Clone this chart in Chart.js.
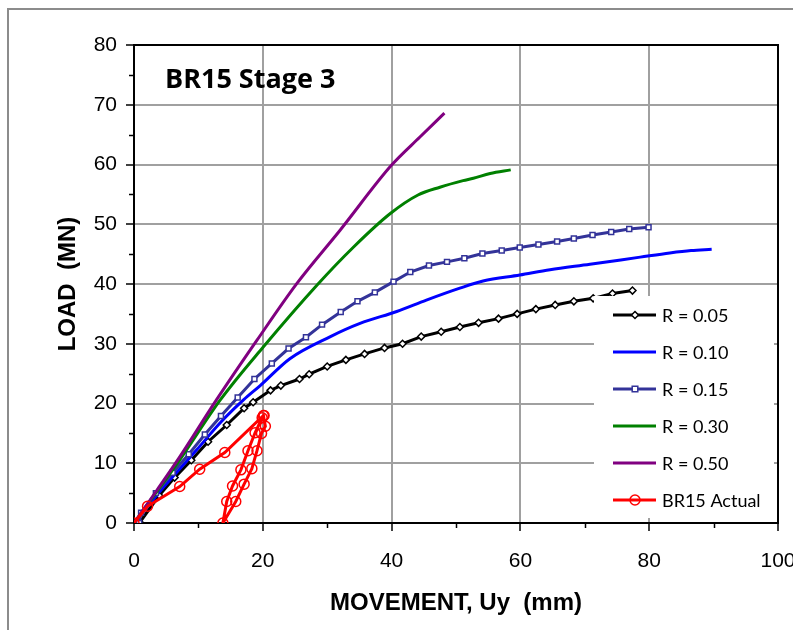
<!DOCTYPE html>
<html><head><meta charset="utf-8">
<script src="https://cdn.jsdelivr.net/npm/chart.js@4.4.1/dist/chart.umd.min.js"></script>
<style>html,body{margin:0;padding:0;background:#fff;}canvas{display:block;}</style>
</head><body>
<canvas id="c" width="793" height="630"></canvas>
<script>
// ---- data ----
const seriesNames = ['R = 0.05', 'R = 0.10', 'R = 0.15', 'R = 0.30', 'R = 0.50', 'BR15 Actual'];
const r005 = [[0,0],[0.9,0.1],[3.9,4.6],[6.3,7.6],[8.9,10.5],[11.5,13.6],[14.4,16.4],[17.1,19.2],[18.5,20.2],[21.2,22.2],[22.8,23.0],[25.7,24.1],[27.2,24.9],[30.0,26.2],[32.9,27.3],[35.8,28.3],[38.9,29.3],[41.7,30.0],[44.6,31.2],[47.7,32.0],[50.6,32.8],[53.5,33.5],[56.6,34.2],[59.5,35.0],[62.4,35.8],[65.4,36.5],[68.3,37.1],[71.3,37.6],[74.3,38.4],[77.4,38.9]];
const r010 = [[0,0],[1,1.3],[4.6,6.0],[9.7,12.2],[13.5,16.9],[17.0,20.6],[19.6,23.0],[24.2,27.5],[30.5,31.2],[35.1,33.4],[40.8,35.4],[45.4,37.3],[50.6,39.3],[54.2,40.5],[59.9,41.5],[64.6,42.4],[70.8,43.3],[78.6,44.5],[83.2,45.2],[86.5,45.6],[89.7,45.8]];
const r015 = [[0,0],[0.8,0],[1.1,1.7],[3.4,5.0],[6.0,8.4],[8.5,11.5],[11.0,14.8],[13.5,17.9],[16.1,21.0],[18.7,24.1],[21.4,26.7],[24.0,29.2],[26.7,31.1],[29.2,33.2],[32.1,35.3],[34.7,37.1],[37.4,38.6],[40.3,40.4],[42.9,42.0],[45.8,43.1],[48.6,43.7],[51.3,44.3],[54.1,45.1],[57.1,45.6],[59.9,46.1],[62.8,46.6],[65.7,47.1],[68.3,47.6],[71.2,48.2],[74.1,48.7],[76.9,49.2],[79.9,49.5]];
const r030 = [[0,0],[3.5,5.2],[7,10.4],[13.4,20.6],[20.1,29.5],[28.4,39.8],[34.1,46.2],[39.8,51.8],[44.1,54.9],[47.5,56.2],[51.1,57.3],[52.7,57.7],[55.3,58.5],[58.5,59.1]];
const r050 = [[0,0],[3.5,5.4],[7,10.9],[12.8,20.6],[19.1,30.6],[25.3,40.1],[32.0,49.0],[40.0,59.9],[44.4,64.6],[48.2,68.6]];
const br15Actual = [[0,0],[2.1,2.8],[7.1,6.1],[10.2,9.0],[14.1,11.8],[20.1,18.0],[20.4,16.2],[19.8,15.0],[19.1,12.1],[18.3,9.1],[17.1,6.5],[15.8,3.6],[13.8,0],[14.4,3.6],[15.3,6.2],[16.6,8.9],[17.7,12.1],[18.8,15.1],[19.9,17.6],[20.2,18.0]];
const xTickMin = 0, xTickMax = 100, xTickStep = 20;
const yTickMin = 0, yTickMax = 80, yTickStep = 10;
const chartTitle = 'BR15 Stage 3';
const xTitle = 'MOVEMENT, Uy  (mm)';
const yTitle = 'LOAD  (MN)';

const toXY = a => a.map(p => ({x: p[0], y: p[1]}));

const styles = [
  {color:'#000000', pointStyle:'rectRot', radius:3.5, bg:'#ffffff', smooth:false},
  {color:'#0000ff', pointStyle:false, radius:0, bg:'#ffffff', smooth:true},
  {color:'#333399', pointStyle:'rect', radius:3.5, bg:'#ffffff', smooth:false},
  {color:'#008000', pointStyle:false, radius:0, bg:'#ffffff', smooth:true},
  {color:'#800080', pointStyle:false, radius:0, bg:'#ffffff', smooth:true},
  {color:'#ff0000', pointStyle:'circle', radius:5, bg:'rgba(0,0,0,0)', smooth:false}
];
const seriesData = [r005, r010, r015, r030, r050, br15Actual];

const datasets = seriesData.map((d, i) => ({
  label: seriesNames[i],
  data: toXY(d),
  showLine: true,
  borderColor: styles[i].color,
  backgroundColor: styles[i].bg,
  borderWidth: 3,
  pointStyle: styles[i].pointStyle || 'circle',
  pointRadius: styles[i].radius,
  pointBorderWidth: 1.5,
  pointBorderColor: styles[i].color,
  pointBackgroundColor: styles[i].bg,
  cubicInterpolationMode: styles[i].smooth ? 'monotone' : 'default',
  tension: 0,
  order: seriesData.length - i
}));

const decoPlugin = {
  id: 'deco',
  beforeDraw(chart) {
    const ctx = chart.ctx;
    ctx.save();
    ctx.fillStyle = '#fff';
    ctx.fillRect(0, 0, chart.width, chart.height);
    ctx.strokeStyle = '#8c8c8c';
    ctx.lineWidth = 2;
    ctx.strokeRect(8, 9, chart.width + 40, chart.height + 40);
    ctx.restore();
  },
  beforeDatasetsDraw(chart) {
    const {ctx, chartArea: a, scales: {x, y}} = chart;
    ctx.save();
    ctx.strokeStyle = '#000';
    ctx.lineWidth = 2;
    ctx.strokeRect(a.left, a.top, a.right - a.left, a.bottom - a.top);
    ctx.lineWidth = 1.5;
    ctx.beginPath();
    for (let v = yTickMin + yTickStep / 2; v < yTickMax; v += yTickStep) {
      const py = Math.round(y.getPixelForValue(v)) + 0.5;
      ctx.moveTo(a.left - 5, py); ctx.lineTo(a.left, py);
    }
    for (let v = xTickMin + xTickStep / 2; v < xTickMax; v += xTickStep) {
      const px = Math.round(x.getPixelForValue(v)) + 0.5;
      ctx.moveTo(px, a.bottom); ctx.lineTo(px, a.bottom + 5);
    }
    ctx.stroke();
    ctx.restore();
  },
  afterDatasetsDraw(chart) {
    const {ctx, chartArea: a} = chart;
    ctx.save();
    // title inside plot
    ctx.fillStyle = '#000';
    ctx.font = 'bold 27px "Open Sans"';
    ctx.textBaseline = 'middle';
    ctx.textAlign = 'left';
    ctx.fillText(chartTitle, a.left + 31, a.top + 35);
    // legend
    const lx = a.right - 184, ly = a.top + 251, lw = 180, lh = 222;
    ctx.fillStyle = '#fff';
    ctx.fillRect(lx, ly, lw, lh);
    ctx.font = '18px Lato';
    chart.data.datasets.forEach((ds, i) => {
      const yy = ly + 19 + i * 37;
      ctx.strokeStyle = ds.borderColor;
      ctx.lineWidth = 3;
      ctx.beginPath(); ctx.moveTo(lx + 19, yy); ctx.lineTo(lx + 62, yy); ctx.stroke();
      const cx = lx + 41;
      const r = ds.pointRadius;
      if (r > 0) {
        ctx.lineWidth = 1.5;
        ctx.strokeStyle = ds.pointBorderColor;
        ctx.fillStyle = ds.pointBackgroundColor;
        ctx.beginPath();
        if (ds.pointStyle === 'rectRot') {
          ctx.moveTo(cx, yy - r); ctx.lineTo(cx + r, yy); ctx.lineTo(cx, yy + r); ctx.lineTo(cx - r, yy); ctx.closePath();
        } else if (ds.pointStyle === 'rect') {
          const s = r * 0.8;
          ctx.rect(cx - s, yy - s, 2 * s, 2 * s);
        } else {
          ctx.arc(cx, yy, r, 0, Math.PI * 2);
        }
        ctx.fill(); ctx.stroke();
      }
      ctx.fillStyle = '#000';
      ctx.fillText(ds.label, lx + 68, yy + 1);
    });
    ctx.restore();
  }
};

const tickFont = {family: '"Liberation Sans", Arial, sans-serif', size: 21};
const titleFont = {family: '"Liberation Sans", Arial, sans-serif', size: 24, weight: 'bold'};

new Chart(document.getElementById('c'), {
  type: 'scatter',
  data: {datasets},
  options: {
    responsive: false,
    animation: false,
    devicePixelRatio: 1,
    layout: {padding: {top: 45, right: 15, left: 0, bottom: 0}},
    plugins: {legend: {display: false}, tooltip: {enabled: false}, title: {display: false}},
    scales: {
      x: {
        type: 'linear', min: xTickMin, max: xTickMax,
        ticks: {stepSize: xTickStep, color: '#000', font: tickFont, padding: 18, maxRotation: 0},
        grid: {color: '#a0a0a0', lineWidth: 2, tickColor: '#000', tickWidth: 1.5, tickLength: 8},
        border: {display: true, color: '#000', width: 2},
        title: {display: true, text: xTitle, color: '#000', font: titleFont, padding: {top: 0, bottom: 12}},
        afterFit(s) { s.height = 107; s.paddingLeft = 0; s.paddingRight = 0; }
      },
      y: {
        type: 'linear', min: yTickMin, max: yTickMax,
        ticks: {stepSize: yTickStep, color: '#000', font: tickFont, padding: 9},
        grid: {color: '#a0a0a0', lineWidth: 2, tickColor: '#000', tickWidth: 1.5, tickLength: 8},
        border: {display: true, color: '#000', width: 2},
        title: {display: true, text: yTitle, color: '#000', font: titleFont, padding: {top: 54, bottom: 0}},
        afterFit(s) { s.width = 134; s.paddingTop = 0; s.paddingBottom = 0; }
      }
    }
  },
  plugins: [decoPlugin]
});
</script>
</body></html>
